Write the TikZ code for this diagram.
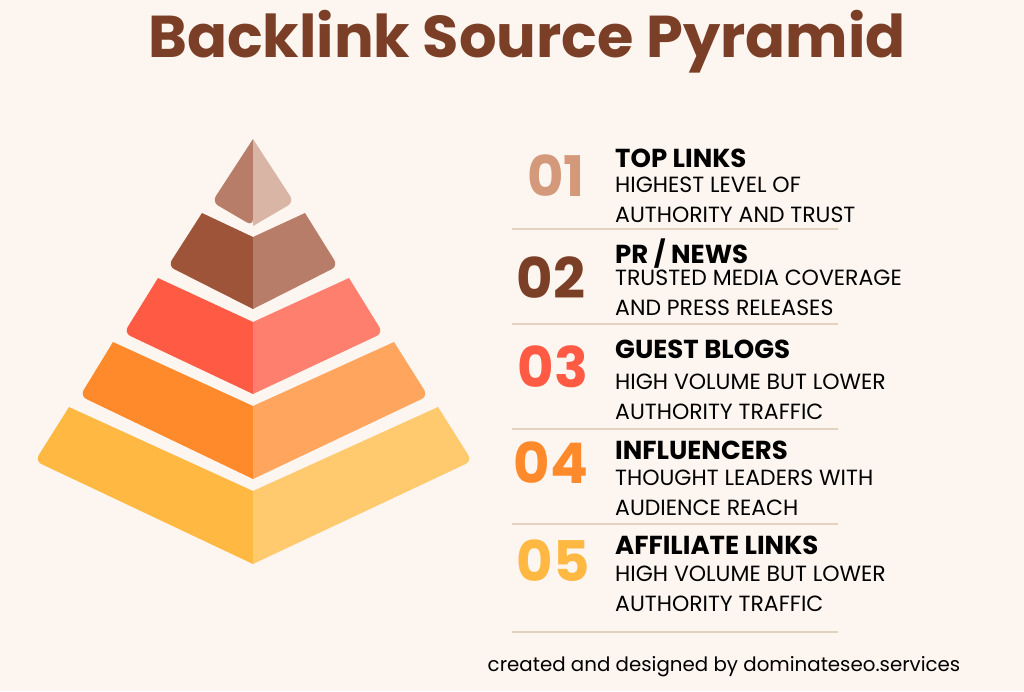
\documentclass[tikz,border=0pt]{standalone}
\usepackage{fontspec}
\setmainfont{Poppins}
\definecolor{bg}{HTML}{FDF5EF}
\definecolor{title}{HTML}{7A3F26}
\definecolor{aL}{HTML}{B87D68}\definecolor{aR}{HTML}{D9B5A6}
\definecolor{bL}{HTML}{9E5438}\definecolor{bR}{HTML}{B87D68}
\definecolor{cL}{HTML}{FF5A43}\definecolor{cR}{HTML}{FF7F6E}
\definecolor{dL}{HTML}{FF8A2B}\definecolor{dR}{HTML}{FFA55E}
\definecolor{eL}{HTML}{FFB943}\definecolor{eR}{HTML}{FFCA6E}
\definecolor{n1}{HTML}{D4997A}
\definecolor{rule}{HTML}{E3D2C0}
\begin{document}
\begin{tikzpicture}[x=1pt,y=-1pt,
  num/.style={font=\fontsize{56}{56}\selectfont\bfseries,anchor=center,inner sep=0},
  head/.style={font=\fontsize{26}{26}\selectfont\bfseries,anchor=base west,inner sep=0},
  body/.style={font=\fontsize{22}{22}\selectfont,anchor=base west,inner sep=0},
  sep/.style={draw=rule,line width=1.2pt}]
\fill[bg] (0,0) rectangle (1024,691);
\useasboundingbox (0,0) rectangle (1024,691);
\node[font=\fontsize{59}{59}\selectfont\bfseries,text=title] (t) at (527,42) {Backlink Source Pyramid};
\fill[aL] (253,139) [rounded corners=7] -- (212,202) -- (253,226) [sharp corners] -- cycle;
\fill[aR] (253,139) -- (253,226) [rounded corners=7] -- (294,202) [sharp corners] -- cycle;
\fill[bL] (202,213) -- (253,237) -- (253,309) [rounded corners=7] -- (168,266) [sharp corners] -- cycle;
\fill[bR] (253,237) -- (305,213) [rounded corners=7] -- (338,266) [sharp corners] -- (253,309) -- cycle;
\fill[cL] (158,278) -- (253,322) -- (253,394) [rounded corners=7] -- (124,333) [sharp corners] -- cycle;
\fill[cR] (253,322) -- (349,278) [rounded corners=7] -- (383,333) [sharp corners] -- (253,394) -- cycle;
\fill[dL] (113,342) -- (253,406) -- (253,479) [rounded corners=7] -- (80,396) [sharp corners] -- cycle;
\fill[dR] (253,406) -- (394,342) [rounded corners=7] -- (428,396) [sharp corners] -- (253,479) -- cycle;
\fill[eL] (69,407) -- (253,491) -- (253,564) [rounded corners=7] -- (35,461) [sharp corners] -- cycle;
\fill[eR] (253,491) -- (438,407) [rounded corners=7] -- (472,461) [sharp corners] -- (253,564) -- cycle;
\coordinate (r1a) at (512,229);\coordinate (r1b) at (838,229);
\coordinate (r2a) at (512,324);\coordinate (r2b) at (838,324);
\coordinate (r3a) at (512,429);\coordinate (r3b) at (838,429);
\coordinate (r4a) at (512,524);\coordinate (r4b) at (838,524);
\coordinate (r5a) at (512,632);\coordinate (r5b) at (838,632);
\foreach \i in {1,...,5}{\draw[sep] (r\i a) -- (r\i b);}
\node[num,text=n1] (n1) at (556,176) {01};
\node[num,text=title] (n2) at (551,278) {02};
\node[num,text=cL] (n3) at (553,367) {03};
\node[num,text=dL] (n4) at (551,463) {04};
\node[num,text=eL] (n5) at (553,561) {05};
\node[head] (h1) at (615,167) {TOP LINKS};
\node[body] (b1a) at (615,192) {HIGHEST LEVEL OF};
\node[body] (b1b) at (615,222) {AUTHORITY AND TRUST};
\node[head] (h2) at (615,263) {PR / NEWS};
\node[body] (b2a) at (615,285) {TRUSTED MEDIA COVERAGE};
\node[body] (b2b) at (615,315) {AND PRESS RELEASES};
\node[head] (h3) at (615,358) {GUEST BLOGS};
\node[body] (b3a) at (615,389) {HIGH VOLUME BUT LOWER};
\node[body] (b3b) at (615,419) {AUTHORITY TRAFFIC};
\node[head] (h4) at (615,459) {INFLUENCERS};
\node[body] (b4a) at (615,485) {THOUGHT LEADERS WITH};
\node[body] (b4b) at (615,515) {AUDIENCE REACH};
\node[head] (h5) at (615,554) {AFFILIATE LINKS};
\node[body] (b5a) at (615,581) {HIGH VOLUME BUT LOWER};
\node[body] (b5b) at (615,611) {AUTHORITY TRAFFIC};
\node[font=\fontsize{19.8}{20}\selectfont,anchor=base] (f) at (724,671) {created and designed by dominateseo.services};
\end{tikzpicture}
\end{document}
